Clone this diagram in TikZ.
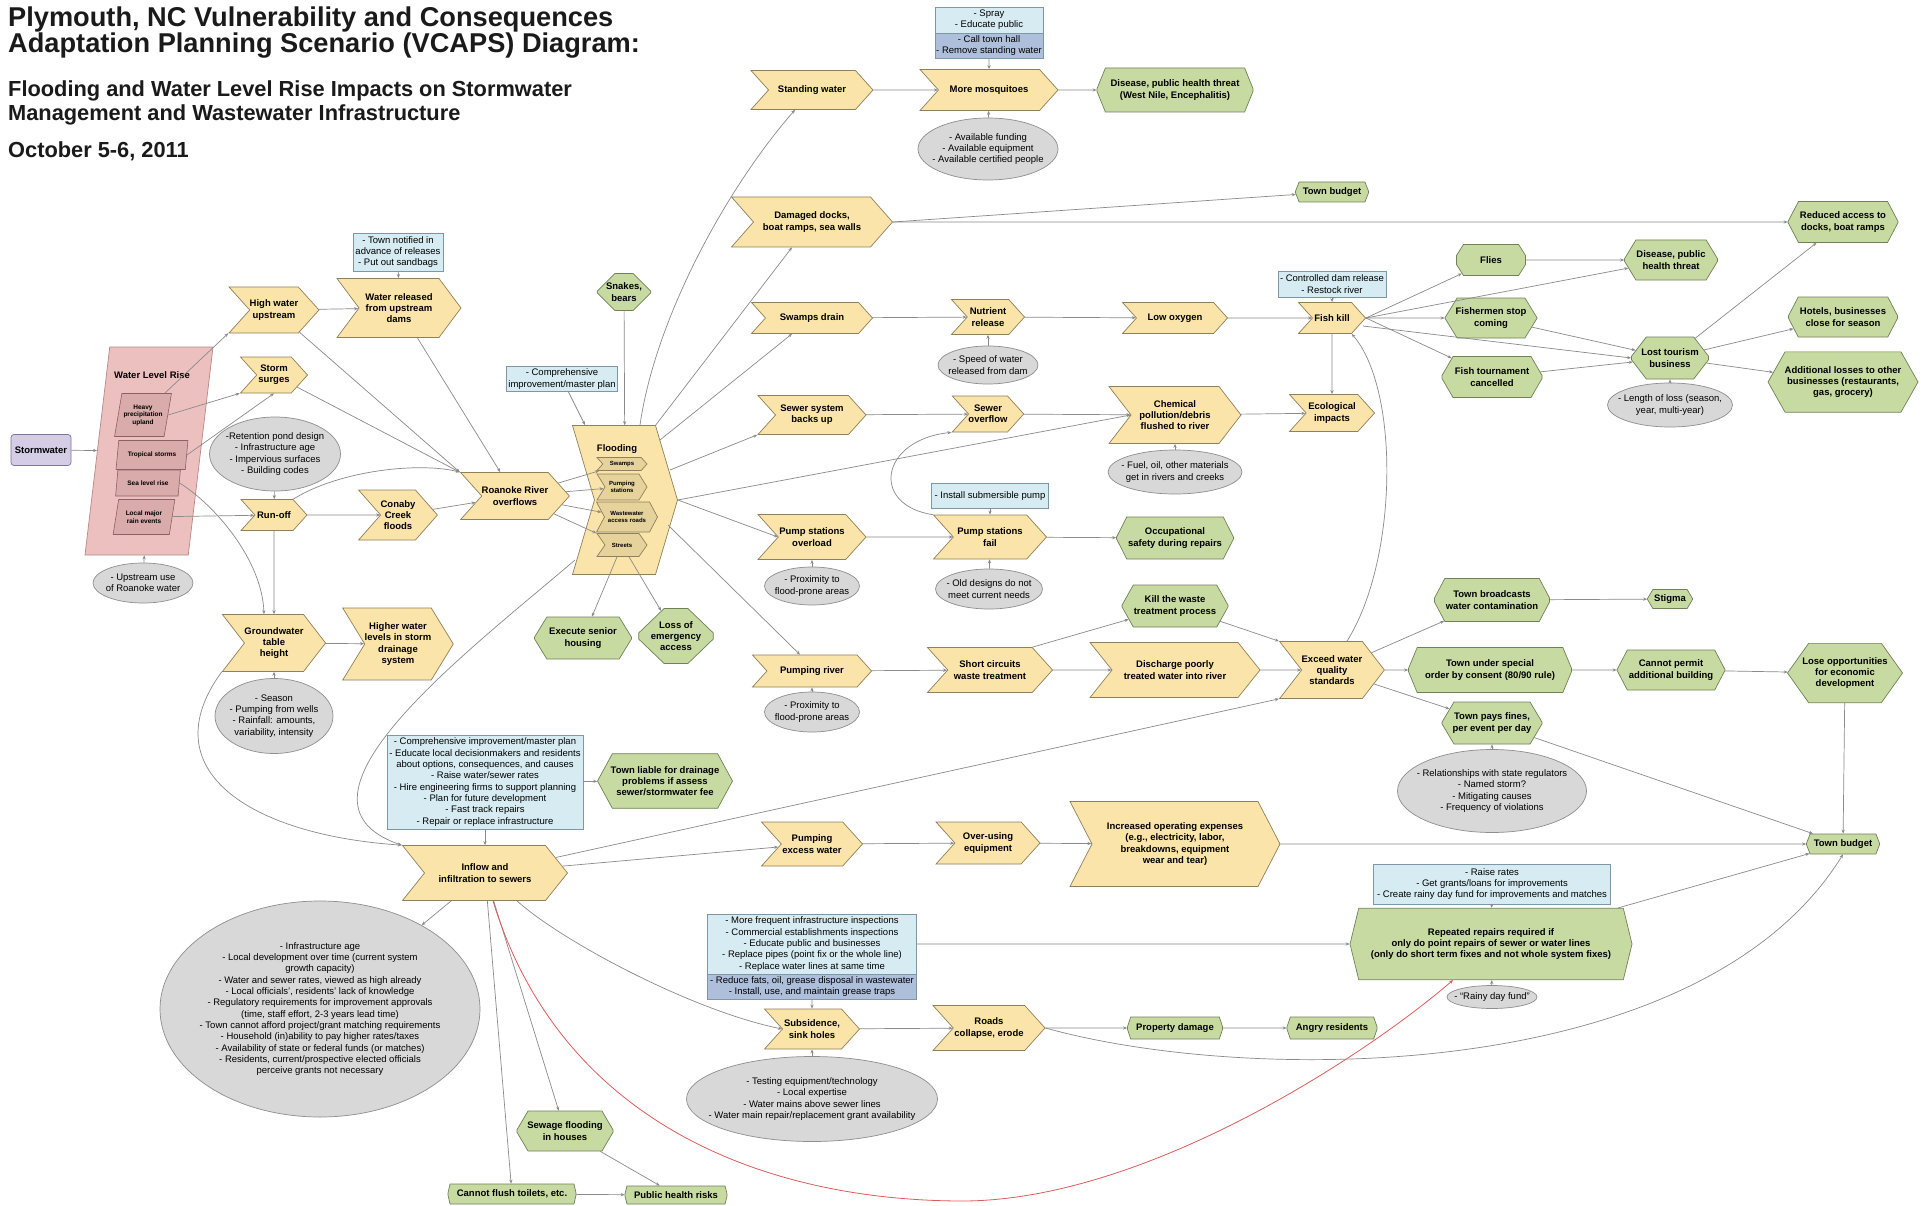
\documentclass[tikz,border=0pt]{standalone}
\usepackage{fontspec}
\setmainfont{Liberation Sans}
\usetikzlibrary{arrows.meta,shapes.symbols,shapes.misc,shapes.geometric,calc}

\definecolor{chevfill}{HTML}{FAE4AA}
\definecolor{chevline}{HTML}{8E805A}
\definecolor{chevin}{HTML}{E6D29B}
\definecolor{octfill}{HTML}{C7DAA2}
\definecolor{octline}{HTML}{6F8257}
\definecolor{ellfill}{HTML}{D8D8D8}
\definecolor{ellline}{HTML}{8E8E8E}
\definecolor{hintfill}{HTML}{D6ECF2}
\definecolor{hintdark}{HTML}{AEBFDB}
\definecolor{hintline}{HTML}{7C98A8}
\definecolor{pinkfill}{HTML}{EDC0C0}
\definecolor{pinkline}{HTML}{B98787}
\definecolor{pinkin}{HTML}{D9ABAB}
\definecolor{pinkdark}{HTML}{8A6262}
\definecolor{stormfill}{HTML}{D5CCE6}
\definecolor{stormline}{HTML}{7E7399}
\definecolor{linkgray}{HTML}{8A8A8A}
\definecolor{redline}{HTML}{DD5C5C}
\definecolor{titlegray}{HTML}{1A1A1A}

\tikzset{
  boldtext/.style={font=\fontsize{9.5}{11.3}\selectfont\bfseries, align=center, inner sep=0pt},
  plaintext/.style={font=\fontsize{9.5}{11.3}\selectfont, align=center},
  chev depth/.initial=22,
  chevbox/.code 2 args={%
    \pgfmathsetmacro\chvd{min(0.45*#2,\pgfkeysvalueof{/tikz/chev depth})}%
    \pgfmathsetmacro\chvang{2*atan((#2/2)/\chvd)}%
    \edef\chvopts{signal, signal from=west, signal to=east,
      minimum width=#1pt, minimum height=#2pt, signal pointer angle=\chvang}%
    \expandafter\pgfkeysalso\expandafter{\chvopts}%
    \pgfkeysalso{boldtext, fill=chevfill, draw=chevline, line width=0.7pt}},
  octbox/.code 2 args={%
    \pgfmathsetmacro\octx{min(0.17*#1,26)}%
    \pgfmathsetmacro\octy{0.24*#2}%
    \pgfmathsetmacro\octang{atan(\octy/\octx)}%
    \edef\octopts{chamfered rectangle, chamfered rectangle angle=\octang,
      chamfered rectangle xsep=\octx pt, chamfered rectangle ysep=\octy pt,
      minimum width=#1pt, minimum height=#2pt}%
    \expandafter\pgfkeysalso\expandafter{\octopts}%
    \pgfkeysalso{boldtext, fill=octfill, draw=octline, line width=0.7pt}},
  notebox/.style 2 args={ellipse, plaintext, fill=ellfill, draw=ellline, line width=0.7pt,
    minimum width=#1pt, minimum height=#2pt, inner xsep=-30pt, inner ysep=-14pt},
  hintbox/.style 2 args={rectangle, plaintext, fill=hintfill, draw=hintline, line width=0.7pt,
    minimum width=#1pt, minimum height=#2pt, inner sep=0pt},
  parabox/.style 2 args={trapezium, trapezium left angle=72, trapezium right angle=108,
    trapezium stretches=true, minimum width=#1pt, minimum height=#2pt, inner sep=0pt,
    fill=pinkin, draw=pinkdark, line width=0.6pt, align=center,
    font=\fontsize{6.5}{7.5}\selectfont\bfseries},
  flowline/.style={draw=linkgray, line width=0.7pt, -{Stealth[length=4pt,width=3.2pt]}},
  alarmline/.style={draw=redline, line width=0.8pt, -{Stealth[length=4pt,width=3.2pt]}},
  headline/.style={font=\fontsize{27.2}{30}\selectfont\bfseries, anchor=base west, inner sep=0pt, text=titlegray},
  subline/.style={font=\fontsize{21.8}{25}\selectfont\bfseries, anchor=base west, inner sep=0pt, text=titlegray},
}

\begin{document}
\begin{tikzpicture}[x=1pt,y=-1pt]
\useasboundingbox (0,0) rectangle (1921,1206);
\fill[white] (0,0) rectangle (1921,1206);

\node[headline] (head1) at (8,27) {Plymouth, NC Vulnerability and Consequences};
\node[headline] (head2) at (8,52.5) {Adaptation Planning Scenario (VCAPS) Diagram:};
\node[subline] (sub1) at (8,97) {Flooding and Water Level Rise Impacts on Stormwater};
\node[subline] (sub2) at (8,121) {Management and Wastewater Infrastructure};
\node[subline] (date) at (8,158) {October 5-6, 2011};

\node[rounded corners=3pt, fill=stormfill, draw=stormline, line width=0.7pt, boldtext,
  minimum width=60pt, minimum height=31pt] (storm) at (41,450) {Stormwater};
\node[trapezium, trapezium left angle=84, trapezium right angle=96, trapezium stretches=true,
  minimum width=128pt, minimum height=208pt, inner sep=3pt, fill=pinkfill, draw=pinkline,
  line width=0.7pt] (wlr) at (149,451) {\strut};
\node[boldtext] (wlrlbl) at (152,375) {Water Level Rise};
\node[parabox={57}{43}] (heavy) at (143,415) {Heavy\\precipitation\\upland};
\node[parabox={72}{29}] (tropical) at (152,455) {Tropical storms};
\node[parabox={65}{26}] (sea) at (148,483) {Sea level rise};
\node[parabox={62}{35}] (local) at (144,517) {Local major\\rain events};
\node[notebox={100}{40}] (upstream) at (143,583) {- Upstream use\\of Roanoke water};

\node[chevbox={90}{46}] (hiwater) at (274,310) {High water\\upstream};
\node[chevbox={124}{59}] (released) at (399,308) {Water released\\from upstream\\dams};
\node[hintbox={90}{38}] (notified) at (398,252) {- Town notified in\\advance of releases\\- Put out sandbags};
\node[chevbox={67}{36}] (surges) at (274,375) {Storm\\surges};
\node[notebox={131}{74}] (retention) at (275,454) {-Retention pond design\\- Infrastructure age\\- Impervious surfaces\\- Building codes};
\node[chevbox={66}{31}] (runoff) at (274,515) {Run-off};
\node[chevbox={67}{50}] (conaby) at (398,515) {Conaby\\Creek\\floods};
\node[chevbox={84}{57}] (gwater) at (274,643) {Groundwater\\table\\height};
\node[chevbox={110}{72}] (higher) at (398,644) {Higher water\\levels in storm\\drainage\\system};
\node[notebox={118}{75}] (season) at (274,716) {- Season\\- Pumping from wells\\- Rainfall: amounts,\\variability, intensity};
\node[chevbox={105}{47}] (roanoke) at (515,496) {Roanoke River\\overflows};

\node[hintbox={111}{25}] (compplan) at (562,379) {- Comprehensive\\improvement/master plan};
\node[octbox={52}{37}] (snakes) at (624,292) {Snakes,\\bears};
\node[chevbox={105}{149}, inner sep=3pt] (flood) at (625,500) {\strut};
\node[boldtext] (floodlbl) at (617,449) {Flooding};
\node[chev depth=8, chevbox={50}{13}, fill=chevin, font=\fontsize{6}{7}\selectfont\bfseries] (swamps) at (622,464) {Swamps};
\node[chev depth=8, chevbox={50}{26}, fill=chevin, font=\fontsize{6}{7}\selectfont\bfseries] (pumpst) at (622,487) {Pumping\\stations};
\node[chev depth=8, chevbox={61}{30}, fill=chevin, font=\fontsize{6}{7}\selectfont\bfseries] (wastew) at (627,517) {Wastewater\\access roads};
\node[chev depth=8, chevbox={50}{23}, fill=chevin, font=\fontsize{6}{7}\selectfont\bfseries] (streets) at (622,545) {Streets};
\node[octbox={97}{42}] (senior) at (583,638) {Execute senior\\housing};
\node[octbox={72}{53}] (emerg) at (676,636) {Loss of\\emergency\\access};

\node[chevbox={122}{39}] (standing) at (812,90) {Standing water};
\node[chevbox={161}{50}] (docks) at (812,222) {Damaged docks,\\boat ramps, sea walls};
\node[chevbox={121}{31}] (swdrain) at (812,318) {Swamps drain};
\node[chevbox={108}{39}] (backsup) at (812,415) {Sewer system\\backs up};
\node[chevbox={108}{45}] (overload) at (812,537) {Pump stations\\overload};
\node[notebox={95}{38}] (prox1) at (812,586) {- Proximity to\\flood-prone areas};
\node[chevbox={119}{32}] (pumpriver) at (812,671) {Pumping river};
\node[notebox={95}{40}] (prox2) at (812,712) {- Proximity to\\flood-prone areas};

\node[hintbox={108}{26}] (spraya) at (989,20) {- Spray\\- Educate public};
\node[hintbox={108}{25}, fill=hintdark] (sprayb) at (989,45.5) {- Call town hall\\- Remove standing water};
\node[chevbox={138}{41}] (mosq) at (989,90) {More mosquitoes};
\node[notebox={140}{62}] (funding) at (988,149) {- Available funding\\- Available equipment\\- Available certified people};
\node[octbox={156}{44}] (westnile) at (1175,90) {Disease, public health threat\\(West Nile, Encephalitis)};
\node[octbox={73}{20}] (budgettop) at (1332,192) {Town budget};

\node[chevbox={73}{35}] (nutrient) at (988,317) {Nutrient\\release};
\node[notebox={100}{38}] (speed) at (988,365) {- Speed of water\\released from dam};
\node[chevbox={105}{31}] (lowox) at (1175,318) {Low oxygen};
\node[hintbox={108}{26}] (damrel) at (1332,284) {- Controlled dam release\\- Restock river};
\node[chevbox={67}{31}] (fishkill) at (1332,318) {Fish kill};

\node[chevbox={70}{36}] (overflow) at (988,414) {Sewer\\overflow};
\node[chevbox={132}{57}] (chem) at (1175,415) {Chemical\\pollution/debris\\flushed to river};
\node[notebox={134}{44}] (fuel) at (1175,472) {- Fuel, oil, other materials\\get in rivers and creeks};
\node[chevbox={85}{37}] (eco) at (1332,413) {Ecological\\impacts};

\node[hintbox={117}{25}] (subpump) at (990,496) {- Install submersible pump};
\node[chevbox={113}{44}] (fail) at (990,537) {Pump stations\\fail};
\node[notebox={107}{40}] (olddes) at (989,589) {- Old designs do not\\meet current needs};
\node[octbox={117}{42}] (safety) at (1175,538) {Occupational\\safety during repairs};
\node[octbox={106}{42}] (killwaste) at (1175,606) {Kill the waste\\treatment process};
\node[chevbox={125}{45}] (shortc) at (990,670) {Short circuits\\waste treatment};
\node[chevbox={170}{55}] (discharge) at (1175,670) {Discharge poorly\\treated water into river};
\node[chevbox={88}{57}] (exceed) at (1332,670) {Exceed water\\quality\\standards};

\node[octbox={69}{31}] (flies) at (1491,260) {Flies};
\node[octbox={93}{40}] (disease) at (1671,260) {Disease, public\\health threat};
\node[octbox={110}{41}] (reduced) at (1843,222) {Reduced access to\\docks, boat ramps};
\node[octbox={92}{40}] (fishermen) at (1491,318) {Fishermen stop\\coming};
\node[octbox={100}{41}] (tourney) at (1492,377) {Fish tournament\\cancelled};
\node[octbox={77}{42}] (tourism) at (1670,358) {Lost tourism\\business};
\node[notebox={125}{44}] (length) at (1670,405) {- Length of loss (season,\\year, multi-year)};
\node[octbox={109}{40}] (hotels) at (1843,317) {Hotels, businesses\\close for season};
\node[octbox={150}{60}] (addloss) at (1843,382) {Additional losses to other\\businesses (restaurants,\\gas, grocery)};

\node[octbox={115}{43}] (broadcast) at (1492,600) {Town broadcasts\\water contamination};
\node[octbox={45}{19}] (stigma) at (1670,599) {Stigma};
\node[octbox={163}{45}] (consent) at (1490,670) {Town under special\\order by consent (80/90 rule)};
\node[octbox={108}{40}] (permit) at (1671,670) {Cannot permit\\additional building};
\node[octbox={115}{58}] (loseopp) at (1845,673) {Lose opportunities\\for economic\\development};
\node[octbox={100}{42}] (fines) at (1492,723) {Town pays fines,\\per event per day};
\node[notebox={189}{83}] (regul) at (1492,791) {- Relationships with state regulators\\- Named storm?\\- Mitigating causes\\- Frequency of violations};
\node[octbox={73}{20}] (budget) at (1843,844) {Town budget};

\node[hintbox={196}{94}] (planlist) at (485,782) {- Comprehensive improvement/master plan\\- Educate local decisionmakers and residents\\about options, consequences, and causes\\- Raise water/sewer rates\\- Hire engineering firms to support planning\\- Plan for future development\\- Fast track repairs\\- Repair or replace infrastructure};
\node[octbox={135}{52}] (liable) at (665,781) {Town liable for drainage\\problems if assess\\sewer/stormwater fee};
\node[chevbox={165}{55}] (inflow) at (485,873) {Inflow and\\infiltration to sewers};
\node[notebox={320}{216}] (bigell) at (320,1009) {- Infrastructure age\\- Local development over time (current system\\growth capacity)\\- Water and sewer rates, viewed as high already\\- Local officials', residents' lack of knowledge\\- Regulatory requirements for improvement approvals\\(time, staff effort, 2-3 years lead time)\\- Town cannot afford project/grant matching requirements\\- Household (in)ability to pay higher rates/taxes\\- Availability of state or federal funds (or matches)\\- Residents, current/prospective elected officials\\perceive grants not necessary};
\node[octbox={96}{40}] (sewage) at (565,1131) {Sewage flooding\\in houses};
\node[octbox={128}{20}] (flush) at (512,1194) {Cannot flush toilets, etc.};
\node[octbox={102}{18}] (health) at (676,1195) {Public health risks};

\node[chevbox={101}{44}] (pumpex) at (812,844) {Pumping\\excess water};
\node[chevbox={104}{42}] (overuse) at (988,843) {Over-using\\equipment};
\node[chevbox={210}{85}] (opex) at (1175,844) {Increased operating expenses\\(e.g., electricity,  labor,\\breakdowns,  equipment\\wear and tear)};

\node[hintbox={209}{60}] (inspa) at (812,944) {- More frequent infrastructure inspections\\- Commercial establishments inspections\\- Educate public and businesses\\- Replace pipes (point fix or the whole line)\\- Replace water lines at same time};
\node[hintbox={209}{25}, fill=hintdark] (inspb) at (812,986.5) {- Reduce fats, oil, grease disposal in wastewater\\- Install, use, and maintain grease traps};
\node[chevbox={95}{40}] (subsid) at (812,1029) {Subsidence,\\sink holes};
\node[notebox={251}{85}] (testing) at (812,1099) {- Testing equipment/technology\\- Local expertise\\- Water mains above sewer lines\\- Water main repair/replacement grant availability};
\node[chevbox={112}{45}] (roads) at (989,1028) {Roads\\collapse, erode};
\node[octbox={95}{22}] (propdam) at (1175,1028) {Property damage};
\node[octbox={90}{22}] (angry) at (1332,1028) {Angry residents};

\node[hintbox={237}{40}] (rates) at (1492,884) {- Raise rates\\- Get grants/loans for improvements\\- Create rainy day fund for improvements and matches};
\node[octbox={282}{66}, chamfered rectangle angle=13.7, chamfered rectangle xsep=82pt,
  chamfered rectangle ysep=20pt] (repairs) at (1491,944) {Repeated repairs required if\\only do point repairs of sewer or water lines\\(only do short term fixes and not whole system fixes)};
\node[notebox={90}{23}] (rainy) at (1492,997) {- “Rainy day fund”};

\draw[flowline] (storm) -- (wlr);
\draw[flowline] (upstream) -- (wlr);
\draw[flowline] (heavy.north east) -- (hiwater.south west);
\draw[flowline] (heavy.east) -- (surges.south west);
\draw[flowline] (tropical.east) -- (surges.south);
\draw[flowline] (surges) -- (roanoke.north west);
\draw[flowline] (hiwater) -- (roanoke.north west);
\draw[flowline] (hiwater) -- (released);
\draw[flowline] (released) -- (roanoke);
\draw[flowline] (notified) -- (released);
\draw[flowline] (local) -- (runoff);
\draw[flowline] (sea.east) .. controls (215,505) and (262,560) .. ($(gwater.north)+(-10,0)$);
\draw[flowline] (retention) -- (runoff);
\draw[flowline] (runoff) -- (conaby);
\draw[flowline] (runoff.north east) .. controls (340,470) and (420,462) .. (roanoke.north west);
\draw[flowline] (conaby) -- (roanoke);
\draw[flowline] (runoff) -- (gwater);
\draw[flowline] (gwater) -- (higher);
\draw[flowline] (season) -- (gwater);
\draw[flowline] (gwater.south west) .. controls (150,770) and (250,835) .. (inflow.north west);

\foreach \i in {swamps,pumpst,wastew,streets}
  \draw[flowline] (roanoke) -- (\i);
\draw[flowline] (compplan) -- ($(flood.center)+(-40,-75)$);
\draw[flowline] (snakes) -- (flood);
\draw[flowline] ($(flood.center)+(15,-75)$) .. controls (655,320) and (725,190) .. ($(standing.south)+(-17,0)$);
\draw[flowline] ($(flood.center)+(30,-74)$) -- ($(docks.south)+(-20,0)$);
\draw[flowline] ($(flood.center)+(35,-60)$) -- ($(swdrain.south)+(-20,0)$);
\draw[flowline] ($(flood.center)+(45,-30)$) -- (backsup.south west);
\draw[flowline] (flood.east) -- (chem.west);
\draw[flowline] (flood.east) -- (overload.west);
\draw[flowline] ($(flood.center)+(43,25)$) -- ($(pumpriver.north)+(-12,0)$);
\draw[flowline] ($(flood.center)+(-50,60)$) .. controls (470,650) and (270,800) .. (inflow.north west);
\draw[flowline] (streets) -- (senior);
\draw[flowline] (streets) -- (emerg);

\draw[flowline] (standing) -- (mosq);
\draw[flowline] (mosq) -- (westnile);
\draw[flowline] (sprayb) -- (mosq);
\draw[flowline] (funding) -- (mosq);
\draw[flowline] (docks.east) -- (budgettop);
\draw[flowline] (docks.east) -- (reduced);
\draw[flowline] (swdrain) -- (nutrient);
\draw[flowline] (nutrient) -- (lowox);
\draw[flowline] (lowox) -- (fishkill);
\draw[flowline] (speed) -- (nutrient);
\draw[flowline] (damrel) -- (fishkill);
\foreach \t in {flies,disease,fishermen,tourney}
  \draw[flowline] (fishkill.east) -- (\t);
\draw[flowline] ($(fishkill.east)+(-3,8)$) -- (tourism.west);
\draw[flowline] (flies) -- (disease);
\draw[flowline] (fishermen) -- (tourism);
\draw[flowline] (tourney) -- (tourism);
\draw[flowline] (tourism) -- (reduced);
\draw[flowline] (tourism) -- (hotels);
\draw[flowline] (tourism) -- (addloss);
\draw[flowline] (length) -- (tourism);
\draw[flowline] (fishkill) -- (eco);
\draw[flowline] ($(exceed.north)+(15,0)$) .. controls (1398,560) and (1400,390) .. (fishkill.south east);

\draw[flowline] (backsup) -- (overflow);
\draw[flowline] (overflow) -- (chem);
\draw[flowline] (chem) -- (eco);
\draw[flowline] (fuel) -- (chem);
\draw[flowline] (fail.north west) .. controls (870,505) and (880,440) .. (overflow.south west);
\draw[flowline] (overload) -- (fail);
\draw[flowline] (fail) -- (safety);
\draw[flowline] (prox1) -- (overload);
\draw[flowline] (subpump) -- (fail);
\draw[flowline] (olddes) -- (fail);
\draw[flowline] (pumpriver) -- (shortc);
\draw[flowline] (shortc) -- (discharge);
\draw[flowline] (discharge) -- (exceed);
\draw[flowline] (prox2) -- (pumpriver);
\draw[flowline] (shortc.north east) -- (killwaste);
\draw[flowline] (killwaste) -- (exceed.north west);
\draw[flowline] (exceed) -- (broadcast);
\draw[flowline] (exceed) -- (consent);
\draw[flowline] (exceed) -- (fines);
\draw[flowline] (broadcast) -- (stigma);
\draw[flowline] (consent) -- (permit);
\draw[flowline] (permit) -- (loseopp);
\draw[flowline] (loseopp) -- (budget);
\draw[flowline] (fines) -- (budget);
\draw[flowline] (regul) -- (fines);

\draw[flowline] (inflow) -- (exceed.south west);
\draw[flowline] (inflow) -- (pumpex);
\draw[flowline] (pumpex) -- (overuse);
\draw[flowline] (overuse) -- (opex);
\draw[flowline] (opex) -- (budget);
\draw[flowline] (planlist) -- (inflow);
\draw[flowline] (planlist) -- (liable);
\draw[flowline] (inflow) -- (bigell);
\draw[flowline] (inflow) -- (flush);
\draw[flowline] (inflow) -- (sewage);
\draw[flowline] (sewage) -- (health);
\draw[flowline] (flush) -- (health);
\draw[flowline] ($(inflow.south)+(32,0)$) .. controls (560,940) and (690,1010) .. (subsid.west);
\draw[alarmline] ($(inflow.south)+(8,0)$) .. controls (560,1120) and (760,1200) .. (960,1201)
  .. controls (1140,1202) and (1360,1060) .. ($(repairs.south)+(-38,0)$);
\draw[flowline] (subsid) -- (roads);
\draw[flowline] (roads) -- (propdam);
\draw[flowline] (propdam) -- (angry);
\draw[flowline] (inspb) -- (subsid);
\draw[flowline] (testing) -- (subsid);
\draw[flowline] (inspa) -- (repairs);
\draw[flowline] (rates) -- (repairs);
\draw[flowline] (rainy) -- (repairs);
\draw[flowline] (repairs) -- (budget);
\draw[flowline] (roads.east) .. controls (1250,1085) and (1700,1085) .. (budget.south);
\end{tikzpicture}
\end{document}
